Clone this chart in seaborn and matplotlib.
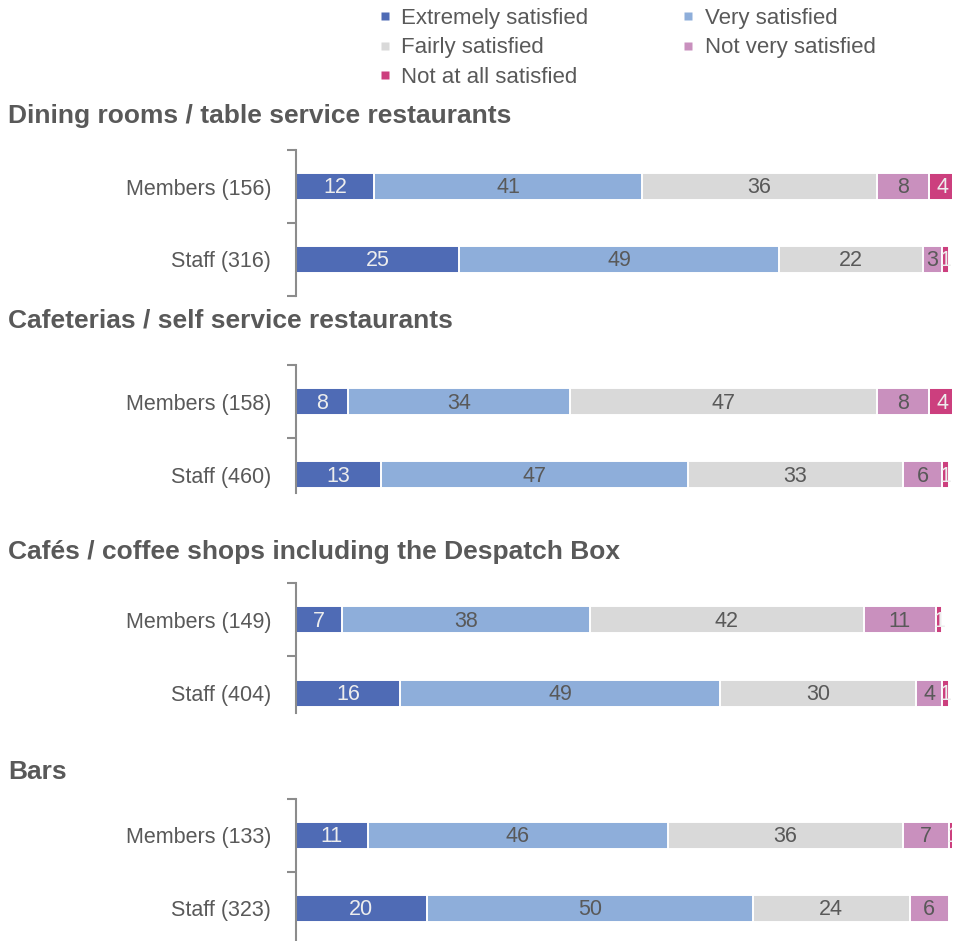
import matplotlib
matplotlib.use("Agg")
import matplotlib.pyplot as plt
from matplotlib.lines import Line2D
import seaborn as sns
import pandas as pd

# Satisfaction survey: share of respondents (%) by rating
ratings = ["Extremely satisfied", "Very satisfied", "Fairly satisfied",
           "Not very satisfied", "Not at all satisfied"]
colors = ["#4F6BB5", "#8EAEDA", "#D9D9D9", "#C990BE", "#CC3F7E"]
label_colors = ["#EDEDED", "#595959", "#595959", "#595959", "#EDEDED"]

titles = ["Dining rooms / table service restaurants",
          "Cafeterias / self service restaurants",
          "Cafés / coffee shops including the Despatch Box",
          "Bars"]

groups_dining = ["Members (156)", "Staff (316)"]
groups_cafeterias = ["Members (158)", "Staff (460)"]
groups_cafes = ["Members (149)", "Staff (404)"]
groups_bars = ["Members (133)", "Staff (323)"]

values_dining = [[12, 41, 36, 8, 4], [25, 49, 22, 3, 1]]
values_cafeterias = [[8, 34, 47, 8, 4], [13, 47, 33, 6, 1]]
values_cafes = [[7, 38, 42, 11, 1], [16, 49, 30, 4, 1]]
values_bars = [[11, 46, 36, 7, 1], [20, 50, 24, 6, 0]]

panels = [
    (groups_dining, values_dining),
    (groups_cafeterias, values_cafeterias),
    (groups_cafes, values_cafes),
    (groups_bars, values_bars),
]

sns.set_theme(style="white")
plt.rcParams["font.family"] = ["Liberation Sans", "DejaVu Sans"]

W, H = 955, 941
fig = plt.figure(figsize=(W / 100, H / 100), dpi=100)

# pixel layout: (axes top, axes bottom, lower y-limit, title centre)
layout = [
    (150, 296, 1.50, 116),
    (365, 493, 1.25, 321),
    (583, 713, 1.27, 552),
    (799, 941, 1.45, 772),
]
ax_left, ax_right = 296, 952
text_grey = "#595959"
axis_grey = "#8C8C8C"

for (groups, vals), (top, bot, ylo, ty), title in zip(panels, layout, titles):
    ax = fig.add_axes([ax_left / W, 1 - bot / H,
                       (ax_right - ax_left) / W, (bot - top) / H])
    df = pd.DataFrame(vals, columns=ratings)
    df["group"] = groups
    cum = df[ratings].cumsum(axis=1)

    # stacked bars: overlay cumulative totals from the widest down
    for k in range(len(ratings) - 1, -1, -1):
        sub = pd.DataFrame({"group": groups, "end": cum[ratings[k]].values})
        sns.barplot(data=sub, x="end", y="group", orient="h", color=colors[k],
                    width=0.37, edgecolor="white", linewidth=1.4,
                    saturation=1, ax=ax)

    # segment value labels
    for i, g in enumerate(groups):
        start = 0
        for k, r in enumerate(ratings):
            v = df.loc[i, r]
            if v > 0:
                ax.text(start + v / 2, i + 0.02, f"{v}", ha="center",
                        va="center", fontsize=15.5, color=label_colors[k],
                        clip_on=True)
            start += v

    ax.set_xlabel("")
    ax.set_ylabel("")
    ax.set_xticks([])
    ax.set_yticks(range(len(groups)))
    ax.set_yticklabels(groups, fontsize=15.5, color=text_grey)
    ax.set_yticks([-0.5, 0.5, 1.5], minor=True)
    ax.set_xlim(0, 100.5)
    ax.set_ylim(ylo, -0.5)
    ax.tick_params(axis="y", which="major", length=0, pad=18)
    ax.tick_params(axis="y", which="minor", length=6.5, width=1.5,
                   color=axis_grey, left=True)
    for s in ["top", "right", "bottom"]:
        ax.spines[s].set_visible(False)
    ax.spines["left"].set_color(axis_grey)
    ax.spines["left"].set_linewidth(1.5)
    ax.set_facecolor("none")

    fig.text(8 / W, 1 - ty / H, title, ha="left", va="center",
             fontsize=19, fontweight="bold", color=text_grey)

# legend: column-major order gives the two-column row layout
order = [0, 2, 4, 1, 3]
handles = [Line2D([], [], marker="s", linestyle="none", markersize=6,
                  markerfacecolor=colors[k], markeredgecolor="none")
           for k in order]
labels = [ratings[k] for k in order]
fig.legend(handles, labels, ncol=2, loc="upper left",
           bbox_to_anchor=(378 / W, 1 - 8 / H), frameon=False,
           fontsize=16, labelcolor=text_grey, handlelength=0.6,
           handletextpad=0.45, columnspacing=4.2, labelspacing=0.38,
           borderaxespad=0, borderpad=0)

fig.savefig("out.png", dpi=100)
